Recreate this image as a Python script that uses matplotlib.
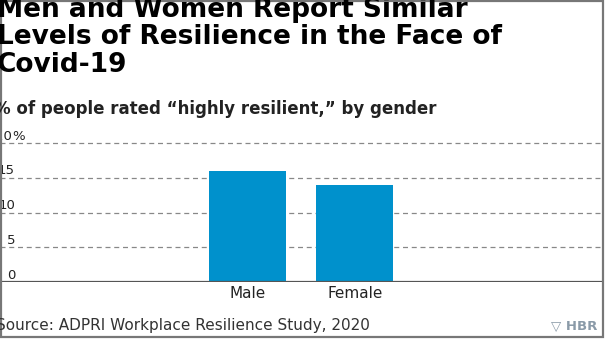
import matplotlib.pyplot as plt
from matplotlib.patches import Rectangle
from matplotlib.transforms import blended_transform_factory

#Data
genders = ["Male", "Female"]
resilient = [16, 14]
yticks = [0, 5, 10, 15, 20]
ytick_labels = ["0", "5", "10", "15", "20"]

title_lines = ["Men and Women Report Similar",
               "Levels of Resilience in the Face of",
               "Covid-19"]
subtitle = "% of people rated \u201chighly resilient,\u201d by gender"
source = "Source: ADPRI Workplace Resilience Study, 2020"

plt.rcParams['font.family'] = ['DejaVu Sans']

W, H = 605, 340
fig = plt.figure(figsize=(W / 100, H / 100), dpi=100)

#Axes placed so that 0 sits at y=282px and 20 at y=143px
px_per_unit = (282 - 143) / 20.0
ytop = 21
ax = fig.add_axes([0, (H - 282) / H, 602 / W, ytop * px_per_unit / H])
ax.set_ylim(0, ytop)
ax.set_xlim(-2.3, 3.3)

ax.bar(range(len(genders)), resilient, width=0.716, color='#0091CC', zorder=2)

for v in yticks[1:]:
    ax.axhline(v, color='#888888', lw=0.9, ls=(0, (4, 3)), zorder=1)
ax.axhline(0, color='#555555', lw=1.6, zorder=3)

for s in ax.spines.values():
    s.set_visible(False)
ax.set_yticks([])
ax.set_xticks(range(len(genders)))
ax.set_xticklabels(genders, fontsize=11, color='#222222')
ax.tick_params(axis='x', length=0, pad=3)

#y labels sit just above the gridlines
tr = blended_transform_factory(fig.transFigure, ax.transData)
for v, lab in zip(yticks, ytick_labels):
    xr = 12 if v == 20 else 15
    ax.text(xr / W, v + 0.5, lab, transform=tr, ha='right', va='baseline',
            fontsize=9.5, color='#222222')
ax.text(12.5 / W, 20 + 0.5, "%", transform=tr, ha='left', va='baseline',
        fontsize=9.5, color='#222222')

#Titles
for i, line in enumerate(title_lines):
    fig.text(-3 / W, 1 - (17 + 27.3 * i) / H, line, ha='left', va='baseline',
             fontsize=19, fontweight='bold', color='black')
fig.text(-6 / W, 1 - 114 / H, subtitle, ha='left', va='baseline', fontsize=12,
         fontweight='bold', color='#222222')
fig.text(-4 / W, 1 - 330 / H, source, ha='left', va='baseline', fontsize=11,
         color='#333333')
fig.text(551 / W, 1 - 330 / H, "\u25bd HBR", ha='left', va='baseline',
         fontsize=9.5, fontweight='bold', color='#8a9aa8')

#Frame around the picture
fig.patches.append(Rectangle((1 / W, 3 / H), 602 / W, 336 / H, transform=fig.transFigure,
                             fill=False, ec='#777777', lw=1.6))

fig.savefig('out.png', dpi=100)
